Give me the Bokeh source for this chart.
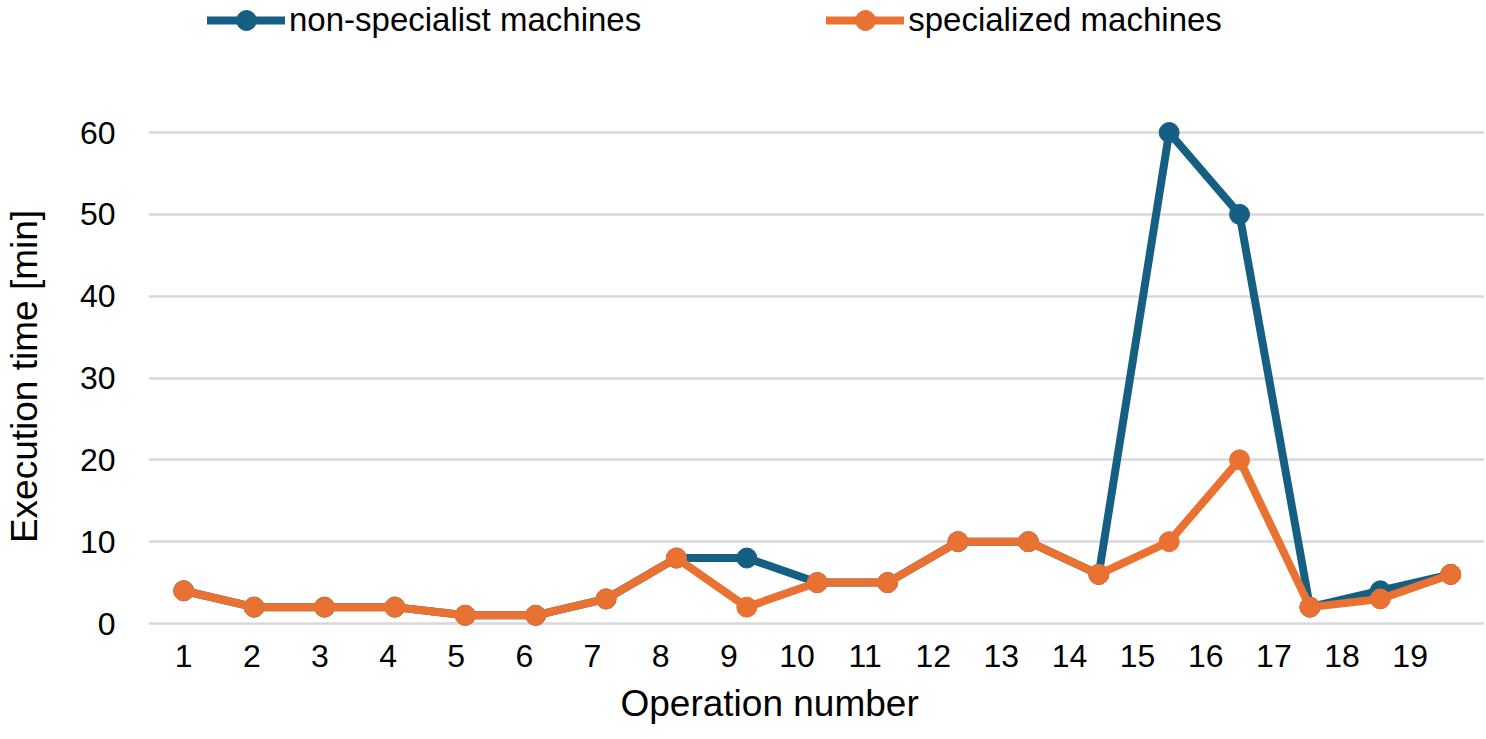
from bokeh.plotting import figure
from bokeh.layouts import column
from bokeh.models import Range1d, FixedTicker, Legend, LegendItem, ColumnDataSource, Title
from bokeh.embed import file_html
from bokeh.resources import INLINE

# ---- data ----
operations = list(range(1, 20))
tick_labels = [str(i) for i in operations]
non_specialist = [4, 2, 2, 2, 1, 1, 3, 8, 8, 5, 5, 10, 10, 6, 60, 50, 2, 4, 6]
specialized = [4, 2, 2, 2, 1, 1, 3, 8, 2, 5, 5, 10, 10, 6, 10, 20, 2, 3, 6]
series_names = ["non-specialist machines", "specialized machines"]
y_ticks = [0, 10, 20, 30, 40, 50, 60]

BLUE = "#156082"
ORANGE = "#E97132"
FONT = "Liberation Sans"
W = 1484

# tick labels in the reference are spaced slightly tighter than the points
LABEL_STEP = 0.968
tick_pos = [1 + (i - 1) * LABEL_STEP for i in operations]

# ---------------- legend strip (top) ----------------
LG_H = 60
lg = figure(width=W, height=LG_H, output_backend="svg", toolbar_location=None,
            x_axis_type=None, y_axis_type=None,
            x_range=Range1d(0, 1), y_range=Range1d(0, 1),
            min_border_left=146, min_border_right=0, min_border_top=0, min_border_bottom=0)
lg.outline_line_color = None
nan = [float("nan")]  # legend-only renderers, nothing drawn in the plot area
dl1 = lg.line(x=nan, y=nan, line_color=BLUE, line_width=8, line_cap="round")
dm1 = lg.scatter(x=nan, y=nan, fill_color=BLUE, line_color=BLUE)
dl2 = lg.line(x=nan, y=nan, line_color=ORANGE, line_width=8, line_cap="round")
dm2 = lg.scatter(x=nan, y=nan, fill_color=ORANGE, line_color=ORANGE)
legend = Legend(items=[LegendItem(label=series_names[0], renderers=[dl1, dm1]),
                       LegendItem(label=series_names[1], renderers=[dl2, dm2])],
                orientation="horizontal", location=(59, LG_H - 45))
legend.label_text_font = FONT
legend.label_text_font_size = "33px"
legend.label_text_color = "black"
legend.glyph_width = 78
legend.glyph_height = 50
legend.label_height = 50
legend.label_standoff = 4
legend.spacing = 185
legend.padding = 0
legend.margin = 0
legend.border_line_color = None
legend.background_fill_alpha = 0
lg.add_layout(legend, "center")

# ---------------- main chart ----------------
p = figure(width=W, height=739 - LG_H, output_backend="svg", toolbar_location=None,
           x_range=Range1d(0.5, 19.48), y_range=Range1d(-1.466, 61.833),
           min_border_left=146, min_border_right=0, min_border_top=117 - LG_H,
           min_border_bottom=104)
p.outline_line_color = None
p.background_fill_color = "white"
p.border_fill_color = "white"

src = ColumnDataSource(dict(x=operations, a=non_specialist, b=specialized))

p.line("x", "a", source=src, line_color=BLUE, line_width=8, line_join="round", line_cap="round")
p.scatter("x", "a", source=src, size=20, fill_color=BLUE, line_color=BLUE)
p.line("x", "b", source=src, line_color=ORANGE, line_width=8, line_join="round", line_cap="round")
p.scatter("x", "b", source=src, size=20, fill_color=ORANGE, line_color=ORANGE)

p.xaxis.ticker = FixedTicker(ticks=tick_pos)
p.xaxis.major_label_overrides = {t: s for t, s in zip(tick_pos, tick_labels)}
p.yaxis.ticker = FixedTicker(ticks=y_ticks)
for ax in (p.xaxis[0], p.yaxis[0]):
    ax.axis_line_color = None
    ax.major_tick_line_color = None
    ax.minor_tick_line_color = None
    ax.major_label_text_font = FONT
    ax.major_label_text_font_size = "32px"
    ax.major_label_text_color = "black"
    ax.axis_label_text_font = FONT
    ax.axis_label_text_font_size = "37px"
    ax.axis_label_text_font_style = "normal"
    ax.axis_label_text_color = "black"

p.yaxis.axis_label = "Execution time [min]"
p.xaxis.major_label_standoff = 3
p.yaxis.major_label_standoff = 27
p.yaxis.axis_label_standoff = 32

xtitle = Title(text="Operation number", align="left", offset=472, vertical_align="bottom",
               standoff=23, text_font=FONT, text_font_size="37px", text_font_style="normal",
               text_color="black")
p.add_layout(xtitle, "below")

p.xgrid.grid_line_color = None
p.ygrid.ticker = FixedTicker(ticks=y_ticks)
p.ygrid.grid_line_color = "#d9d9d9"
p.ygrid.grid_line_width = 2.5

layout = column(lg, p, spacing=0)
open("out.html", "w").write(file_html(layout, INLINE))
